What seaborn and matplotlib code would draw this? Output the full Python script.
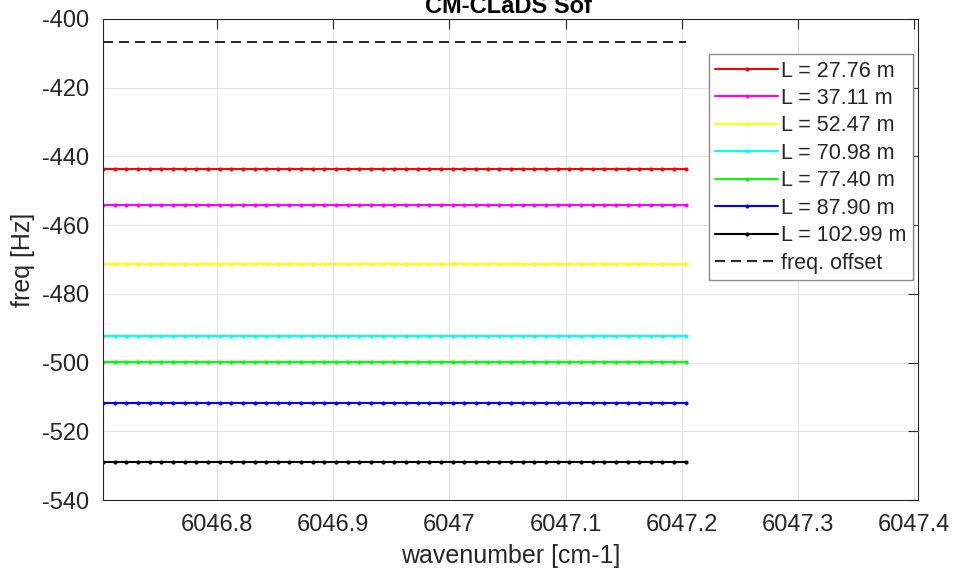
import numpy as np
import pandas as pd
import matplotlib
matplotlib.use("Agg")
import matplotlib.pyplot as plt
import seaborn as sns

# wavenumber sampling (start, end, number of samples)
wn_start = 6046.7017
wn_end = 6047.2035
n_samples = 51

labels = ["L = 27.76 m", "L = 37.11 m", "L = 52.47 m", "L = 70.98 m",
          "L = 77.40 m", "L = 87.90 m", "L = 102.99 m"]
levels = [-443.7, -454.0, -471.3, -492.3, -499.7, -511.9, -528.8]
colors = ["#ff0000", "#ff00ff", "#ffff00", "#00ffff", "#00ff00", "#0000ff", "#000000"]
freq_offset = -406.7

xticks = [6046.8, 6046.9, 6047.0, 6047.1, 6047.2, 6047.3, 6047.4]
xtick_labels = ["6046.8", "6046.9", "6047", "6047.1", "6047.2", "6047.3", "6047.4"]
yticks = [-540, -520, -500, -480, -460, -440, -420, -400]

sns.set_style("white")
plt.rcParams["font.family"] = ["Liberation Sans", "DejaVu Sans"]
plt.rcParams["axes.unicode_minus"] = False

wn = np.linspace(wn_start, wn_end, n_samples)
rows = []
for lab, lev in zip(labels, levels):
    for w in wn:
        rows.append({"wavenumber": w, "freq": lev, "series": lab})
df = pd.DataFrame(rows)

fig = plt.figure(figsize=(9.57, 5.75), dpi=100)
ax = fig.add_axes([0.1076, 0.1304, 0.8516, 0.8366])

sns.lineplot(data=df, x="wavenumber", y="freq", hue="series", hue_order=labels,
             palette=colors, marker="o", markersize=3, markeredgewidth=0,
             linewidth=1.5, ax=ax, estimator=None, sort=False)
off = pd.DataFrame({"wavenumber": [wn_start, wn_end], "freq": [freq_offset, freq_offset]})
sns.lineplot(data=off, x="wavenumber", y="freq", color="black", linestyle=(0, (6, 3.6)),
             linewidth=1.2, ax=ax, label="freq. offset")

ax.set_xlim(6046.7017, 6047.4034)
ax.set_ylim(-540, -400)
ax.set_xticks(xticks)
ax.set_xticklabels(xtick_labels)
ax.set_yticks(yticks)
ax.grid(True, color="#e3e3e3", linewidth=0.8)
ax.tick_params(direction="in", length=7, width=0.8, top=True, right=True,
               labelsize=17, colors="#262626", pad=10)
for s in ax.spines.values():
    s.set_color("#262626")
    s.set_linewidth(0.8)

ax.set_xlabel("wavenumber [cm-1]", fontsize=18, color="#262626", labelpad=6)
ax.set_ylabel("freq [Hz]", fontsize=18, color="#262626", labelpad=5)
fig.text(0.531, 1 - 13 / 575, "CM-CLaDS Sof", ha="center", va="baseline",
         fontsize=17, fontweight="bold", color="black")

leg = ax.legend(loc="upper right", bbox_to_anchor=(0.9939, 0.927), borderaxespad=0,
                fontsize=15.5, frameon=True, fancybox=False, framealpha=1,
                edgecolor="#8c8c8c", handlelength=2.9, handletextpad=0.15,
                labelspacing=0.3, borderpad=0.3)
leg.get_frame().set_linewidth(1.0)

fig.savefig("out.png", dpi=100)
